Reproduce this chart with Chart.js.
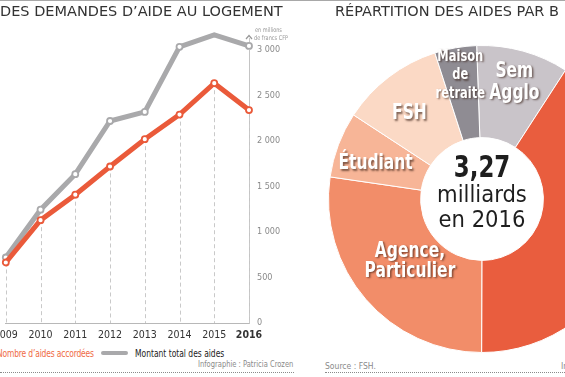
<!DOCTYPE html>
<html lang="fr">
<head>
<meta charset="utf-8">
<title>Aides au logement</title>
<script src="https://cdn.jsdelivr.net/npm/chart.js@4.4.1/dist/chart.umd.min.js"></script>
<style>
  html, body { margin: 0; padding: 0; background: #fff; }
  body { width: 565px; height: 377px; position: relative; overflow: hidden;
         font-family: 'DejaVu Sans Condensed', sans-serif; }
  .abs { position: absolute; white-space: nowrap; }
  .titre { font-family: 'DejaVu Sans', sans-serif; font-size: 14.5px; line-height: 15px; color: #333; top: 4px; z-index: 2; }
  .legende { font-size: 10.5px; line-height: 12px; top: 347px; transform: scaleX(0.8); transform-origin: left center; }
  .petit { font-size: 8.5px; line-height: 10px; color: #8a8a8a; }
  .pointille { height: 0; border-top: 1px dotted #8a8a8a; top: 372px; }
  #lineBox { position: absolute; left: 0; top: 0; width: 299px; height: 343px; }
  #pieBox { position: absolute; left: 328px; top: 45px; width: 308px; height: 308px; }
</style>
</head>
<body>
<div class="abs" style="left:0;top:0;width:565px;height:1px;background:#a8a8a8;"></div>

<div class="abs titre" style="left:0;">DES DEMANDES D’AIDE AU LOGEMENT</div>
<div class="abs titre" style="left:335px;">RÉPARTITION DES AIDES PAR B</div>

<div id="lineBox"><canvas id="lineChart"></canvas></div>
<div id="pieBox"><canvas id="pieChart"></canvas></div>

<div class="abs legende" style="left:-3px;letter-spacing:-0.2px;color:#ef6a45;">Nombre d’aides accordées</div>
<div class="abs" style="left:101px;top:351px;width:27px;height:4px;border-radius:2px;background:#a9a9ab;"></div>
<div class="abs legende" style="left:135px;color:#222;">Montant total des aides</div>
<div class="abs petit" style="right:272px;top:359px;transform:scaleX(0.88);transform-origin:right center;">Infographie : Patricia Crozen</div>
<div class="abs pointille" style="left:0;width:294px;"></div>

<div class="abs petit" style="left:325px;top:361px;">Source : FSH.</div>
<div class="abs petit" style="left:561px;top:361px;">Infographie : Patricia Crozen</div>
<div class="abs pointille" style="left:325px;width:240px;"></div>

<script>
// evolution 2009-2016
var years = ['2009', '2010', '2011', '2012', '2013', '2014', '2015', '2016'];
var nbAides = [665, 1130, 1410, 1720, 2020, 2290, 2635, 2340];
var montantTotal = [720, 1245, 1635, 2220, 2320, 3035, 3165, 3045];
var yTicks = [0, 500, 1000, 1500, 2000, 2500, 3000];

// repartition 2016 (millions de francs CFP)
var beneficiaires = [['Sem', 'Agglo'], [], ['Agence,', 'Particulier'], ['Étudiant'], ['FSH'], ['Maison', 'de', 'retraite']];
var montants = [317, 1335, 890, 226, 353, 144];

var NARROW = "'DejaVu Sans Condensed', sans-serif";

function formatMillier(v) {
    return String(v).replace(/\B(?=(\d{3})+(?!\d))/g, ' ');
}

// texte resserre horizontalement
function texteEtroit(ctx, t, x, y, sx) {
    ctx.save();
    ctx.translate(x, y);
    ctx.scale(sx, 1);
    ctx.fillText(t, 0, 0);
    ctx.restore();
}

var repereAnnees = {
    id: 'repereAnnees',
    beforeDatasetsDraw: function(chart) {
        var ctx = chart.ctx;
        var area = chart.chartArea;
        var pts = chart.getDatasetMeta(0).data;
        var x = chart.scales.y.left;
        ctx.save();
        ctx.lineWidth = 1;
        ctx.strokeStyle = '#c9c9c9';
        ctx.setLineDash([4, 3]);
        pts.forEach(function(p) {
            var px = Math.round(p.x) + 0.5;
            ctx.beginPath();
            ctx.moveTo(px, p.y);
            ctx.lineTo(px, area.bottom);
            ctx.stroke();
        });
        // axe prolonge + fleche
        ctx.beginPath();
        ctx.moveTo(Math.round(x) + 0.5, area.top - 12);
        ctx.lineTo(Math.round(x) + 0.5, area.top);
        ctx.stroke();
        ctx.setLineDash([]);
        ctx.strokeStyle = '#999';
        ctx.lineWidth = 1.2;
        ctx.beginPath();
        ctx.moveTo(x - 3, area.top - 11);
        ctx.lineTo(x, area.top - 14.5);
        ctx.lineTo(x + 3, area.top - 11);
        ctx.stroke();
        ctx.fillStyle = '#999';
        ctx.font = '6.5px ' + NARROW;
        ctx.textBaseline = 'middle';
        texteEtroit(ctx, 'en millions', x + 6, area.top - 19.5, 0.85);
        texteEtroit(ctx, 'de francs CFP', x + 5, area.top - 12, 0.85);
        ctx.restore();
    }
};

var etiquettesParts = {
    id: 'etiquettesParts',
    afterDatasetsDraw: function(chart) {
        var ctx = chart.ctx;
        var arcs = chart.getDatasetMeta(0).data;
        var rayon = [0.79, 0, 0.62, 0.73, 0.73, 0.82];
        var decalage = [0, 0, 0, -2.5, -3, 0]; // degres
        var taille = [21, 0, 21, 21, 21, 15.5];
        var interligne = [22, 0, 20, 0, 0, 18.5];
        ctx.save();
        ctx.textAlign = 'center';
        ctx.textBaseline = 'middle';
        arcs.forEach(function(arc, i) {
            var lines = beneficiaires[i];
            if (!lines.length) return;
            var p = arc.getProps(['x', 'y', 'startAngle', 'endAngle', 'outerRadius'], true);
            var a = (p.startAngle + p.endAngle) / 2 + decalage[i] * Math.PI / 180;
            var r = p.outerRadius * rayon[i];
            var cx = p.x + Math.cos(a) * r;
            var cy = p.y + Math.sin(a) * r;
            ctx.font = 'bold ' + taille[i] + 'px ' + NARROW;
            ctx.shadowColor = 'rgba(50,25,15,0.6)';
            ctx.shadowOffsetX = 1.5;
            ctx.shadowOffsetY = 1.5;
            ctx.shadowBlur = 2;
            ctx.fillStyle = '#fff';
            lines.forEach(function(t, k) {
                texteEtroit(ctx, t, cx, cy + (k - (lines.length - 1) / 2) * interligne[i], 0.82);
            });
        });
        // texte central
        var c = arcs[0].getProps(['x', 'y'], true);
        ctx.shadowColor = 'transparent';
        ctx.fillStyle = '#1e1e1e';
        ctx.textBaseline = 'alphabetic';
        ctx.font = 'bold 31px ' + NARROW;
        texteEtroit(ctx, '3,27', c.x, c.y - 22, 0.82);
        ctx.font = '23.5px ' + NARROW;
        ctx.fillText('milliards', c.x, c.y + 3);
        ctx.fillText('en 2016', c.x, c.y + 28);
        ctx.restore();
    }
};

function renderLineChart() {
    var ctx = document.getElementById('lineChart').getContext('2d');
    new Chart(ctx, {
        type: 'line',
        data: {
            labels: years,
            datasets: [{
                label: 'Nombre d’aides accordées',
                data: nbAides,
                borderColor: '#ea5a3a',
                borderWidth: 5,
                pointRadius: 3,
                pointBorderWidth: 1.8,
                pointBackgroundColor: '#fff',
                pointBorderColor: '#ea5a3a',
                tension: 0,
                clip: false
            }, {
                label: 'Montant total des aides',
                data: montantTotal,
                borderColor: '#a9a9ab',
                borderWidth: 5,
                pointRadius: 3,
                pointBorderWidth: 1.8,
                pointBackgroundColor: '#fff',
                pointBorderColor: '#a9a9ab',
                tension: 0,
                clip: false
            }]
        },
        options: {
            responsive: true,
            maintainAspectRatio: false,
            animation: false,
            layout: { padding: { top: 50, left: 5, right: 0, bottom: 0 } },
            plugins: {
                legend: { display: false },
                tooltip: { enabled: false }
            },
            scales: {
                x: {
                    grid: { display: false, drawTicks: false },
                    border: { display: true, color: '#b8b8b8', width: 1 },
                    ticks: {
                        autoSkip: false,
                        maxRotation: 0,
                        padding: 6,
                        color: '#333',
                        font: function(c) {
                            return { family: NARROW, size: 10.5, weight: c.index === years.length - 1 ? 'bold' : 'normal' };
                        }
                    },
                    afterFit: function(s) {
                        s.height = 20;
                        s.paddingLeft = 0;
                        s.paddingRight = 0;
                    }
                },
                y: {
                    position: 'right',
                    min: yTicks[0],
                    max: yTicks[yTicks.length - 1],
                    grid: { display: false, drawTicks: false },
                    border: { display: true, color: '#c4c4c4', width: 1, dash: [4, 3] },
                    ticks: {
                        stepSize: 500,
                        padding: 8,
                        color: '#8a8a8a',
                        font: { family: NARROW, size: 9 },
                        callback: function(v) { return formatMillier(v); }
                    },
                    afterFit: function(s) { s.width = 50; }
                }
            }
        },
        plugins: [repereAnnees]
    });
}

function renderPieChart() {
    var ctx = document.getElementById('pieChart').getContext('2d');
    new Chart(ctx, {
        type: 'doughnut',
        data: {
            labels: beneficiaires,
            datasets: [{
                data: montants,
                backgroundColor: ['#c9c4c9', '#e95d3e', '#f28d69', '#f7b597', '#fbd9c5', '#8f8c93'],
                borderColor: '#fff',
                borderWidth: 1
            }]
        },
        options: {
            responsive: true,
            maintainAspectRatio: false,
            animation: false,
            cutout: '40%',
            rotation: -2,
            layout: { padding: 0 },
            plugins: {
                legend: { display: false },
                tooltip: { enabled: false }
            }
        },
        plugins: [etiquettesParts]
    });
}

document.addEventListener('DOMContentLoaded', function() {
    renderLineChart();
    renderPieChart();
});
</script>
</body>
</html>
